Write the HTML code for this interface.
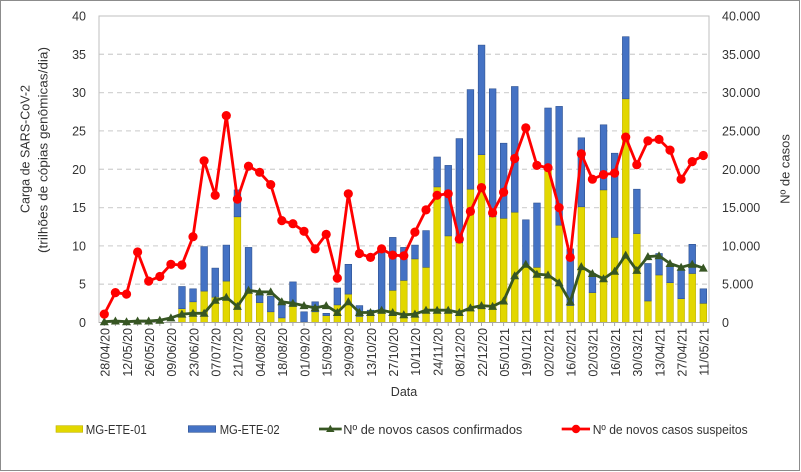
<!DOCTYPE html>
<html><head><meta charset="utf-8"><style>
html,body{margin:0;padding:0;background:#fff;}
svg{display:block;font-family:"Liberation Sans",Arial,sans-serif;}
</style></head><body>
<svg width="801" height="472" viewBox="0 0 801 472" xmlns="http://www.w3.org/2000/svg">
<defs>
<marker id="tri" markerUnits="userSpaceOnUse" markerWidth="12" markerHeight="12" refX="6" refY="6" viewBox="0 0 12 12" overflow="visible"><path d="M6,1.5 L10.5,9.5 L1.5,9.5 Z" fill="#375623"/></marker>
<marker id="dot" markerUnits="userSpaceOnUse" markerWidth="12" markerHeight="12" refX="6" refY="6" viewBox="0 0 12 12" overflow="visible"><circle cx="6" cy="6" r="4.6" fill="#FF0000"/></marker>
</defs>
<rect x="0.5" y="0.5" width="799" height="470" fill="#fff" stroke="#8c8c8c" stroke-width="1"/>
<!-- gridlines -->
<g stroke="#d4d4d4" stroke-width="1.3" stroke-dasharray="5 4">
<line x1="99" y1="284.2" x2="709" y2="284.2"/>
<line x1="99" y1="245.9" x2="709" y2="245.9"/>
<line x1="99" y1="207.6" x2="709" y2="207.6"/>
<line x1="99" y1="169.3" x2="709" y2="169.3"/>
<line x1="99" y1="130.9" x2="709" y2="130.9"/>
<line x1="99" y1="92.6" x2="709" y2="92.6"/>
<line x1="99" y1="54.3" x2="709" y2="54.3"/>
</g>
<rect x="99" y="16" width="610" height="306.5" fill="none" stroke="#bfbfbf" stroke-width="1"/>
<!-- bars -->
<g stroke-width="0.6">
<g fill="#E2D700" stroke="#BDB000">
<rect x="178.6" y="308.7" width="6.7" height="13.8"/>
<rect x="189.7" y="301.8" width="6.7" height="20.7"/>
<rect x="200.8" y="291.1" width="6.7" height="31.4"/>
<rect x="211.9" y="297.2" width="6.7" height="25.3"/>
<rect x="223.0" y="281.1" width="6.7" height="41.4"/>
<rect x="234.1" y="216.8" width="6.7" height="105.7"/>
<rect x="245.2" y="292.6" width="6.7" height="29.9"/>
<rect x="256.3" y="302.6" width="6.7" height="19.9"/>
<rect x="267.4" y="311.8" width="6.7" height="10.7"/>
<rect x="278.5" y="317.9" width="6.7" height="4.6"/>
<rect x="289.6" y="306.4" width="6.7" height="16.1"/>
<rect x="300.7" y="322.1" width="6.7" height="0.4"/>
<rect x="311.8" y="311.8" width="6.7" height="10.7"/>
<rect x="322.9" y="315.6" width="6.7" height="6.9"/>
<rect x="334.0" y="304.9" width="6.7" height="17.6"/>
<rect x="345.0" y="294.1" width="6.7" height="28.4"/>
<rect x="356.1" y="316.4" width="6.7" height="6.1"/>
<rect x="367.2" y="313.3" width="6.7" height="9.2"/>
<rect x="378.3" y="313.3" width="6.7" height="9.2"/>
<rect x="389.4" y="290.3" width="6.7" height="32.2"/>
<rect x="400.5" y="280.4" width="6.7" height="42.1"/>
<rect x="411.6" y="258.9" width="6.7" height="63.6"/>
<rect x="422.7" y="267.3" width="6.7" height="55.2"/>
<rect x="433.8" y="186.9" width="6.7" height="135.6"/>
<rect x="444.9" y="235.9" width="6.7" height="86.6"/>
<rect x="456.0" y="242.8" width="6.7" height="79.7"/>
<rect x="467.1" y="189.2" width="6.7" height="133.3"/>
<rect x="478.2" y="154.7" width="6.7" height="167.8"/>
<rect x="489.3" y="216.8" width="6.7" height="105.7"/>
<rect x="500.3" y="218.3" width="6.7" height="104.2"/>
<rect x="511.4" y="212.2" width="6.7" height="110.3"/>
<rect x="522.5" y="265.0" width="6.7" height="57.5"/>
<rect x="533.6" y="267.3" width="6.7" height="55.2"/>
<rect x="544.7" y="166.9" width="6.7" height="155.6"/>
<rect x="555.8" y="225.2" width="6.7" height="97.3"/>
<rect x="566.9" y="305.6" width="6.7" height="16.9"/>
<rect x="578.0" y="206.8" width="6.7" height="115.7"/>
<rect x="589.1" y="292.6" width="6.7" height="29.9"/>
<rect x="600.2" y="189.9" width="6.7" height="132.6"/>
<rect x="611.3" y="237.4" width="6.7" height="85.1"/>
<rect x="622.4" y="98.8" width="6.7" height="223.7"/>
<rect x="633.5" y="233.6" width="6.7" height="88.9"/>
<rect x="644.6" y="301.0" width="6.7" height="21.5"/>
<rect x="655.7" y="275.0" width="6.7" height="47.5"/>
<rect x="666.7" y="282.7" width="6.7" height="39.8"/>
<rect x="677.8" y="298.7" width="6.7" height="23.8"/>
<rect x="688.9" y="273.5" width="6.7" height="49.0"/>
<rect x="700.0" y="303.3" width="6.7" height="19.2"/>
</g>
<g fill="#4472C4" stroke="#2F528F">
<rect x="178.6" y="286.5" width="6.7" height="22.2"/>
<rect x="189.7" y="288.8" width="6.7" height="13.0"/>
<rect x="200.8" y="246.6" width="6.7" height="44.5"/>
<rect x="211.9" y="268.1" width="6.7" height="29.1"/>
<rect x="223.0" y="245.1" width="6.7" height="36.0"/>
<rect x="234.1" y="189.9" width="6.7" height="26.9"/>
<rect x="245.2" y="247.4" width="6.7" height="45.2"/>
<rect x="256.3" y="293.4" width="6.7" height="9.2"/>
<rect x="267.4" y="296.4" width="6.7" height="15.4"/>
<rect x="278.5" y="301.8" width="6.7" height="16.1"/>
<rect x="289.6" y="281.9" width="6.7" height="24.5"/>
<rect x="300.7" y="311.8" width="6.7" height="10.3"/>
<rect x="311.8" y="301.8" width="6.7" height="10.0"/>
<rect x="322.9" y="313.3" width="6.7" height="2.3"/>
<rect x="334.0" y="288.0" width="6.7" height="16.9"/>
<rect x="345.0" y="264.3" width="6.7" height="29.8"/>
<rect x="356.1" y="305.6" width="6.7" height="10.8"/>
<rect x="367.2" y="310.2" width="6.7" height="3.1"/>
<rect x="378.3" y="250.5" width="6.7" height="62.8"/>
<rect x="389.4" y="237.4" width="6.7" height="52.9"/>
<rect x="400.5" y="247.4" width="6.7" height="33.0"/>
<rect x="411.6" y="245.1" width="6.7" height="13.8"/>
<rect x="422.7" y="230.6" width="6.7" height="36.7"/>
<rect x="433.8" y="157.0" width="6.7" height="29.9"/>
<rect x="444.9" y="165.4" width="6.7" height="70.5"/>
<rect x="456.0" y="138.6" width="6.7" height="104.2"/>
<rect x="467.1" y="89.6" width="6.7" height="99.6"/>
<rect x="478.2" y="45.1" width="6.7" height="109.6"/>
<rect x="489.3" y="88.8" width="6.7" height="128.0"/>
<rect x="500.3" y="143.2" width="6.7" height="75.1"/>
<rect x="511.4" y="86.5" width="6.7" height="125.7"/>
<rect x="522.5" y="219.8" width="6.7" height="45.2"/>
<rect x="533.6" y="203.0" width="6.7" height="64.3"/>
<rect x="544.7" y="108.0" width="6.7" height="58.9"/>
<rect x="555.8" y="106.4" width="6.7" height="118.8"/>
<rect x="566.9" y="248.9" width="6.7" height="56.7"/>
<rect x="578.0" y="137.8" width="6.7" height="69.0"/>
<rect x="589.1" y="273.5" width="6.7" height="19.1"/>
<rect x="600.2" y="124.8" width="6.7" height="65.1"/>
<rect x="611.3" y="153.2" width="6.7" height="84.2"/>
<rect x="622.4" y="36.7" width="6.7" height="62.1"/>
<rect x="633.5" y="189.2" width="6.7" height="44.4"/>
<rect x="644.6" y="263.5" width="6.7" height="37.5"/>
<rect x="655.7" y="253.5" width="6.7" height="21.5"/>
<rect x="666.7" y="266.6" width="6.7" height="16.1"/>
<rect x="677.8" y="269.6" width="6.7" height="29.1"/>
<rect x="688.9" y="244.3" width="6.7" height="29.2"/>
<rect x="700.0" y="288.8" width="6.7" height="14.5"/>
</g>
</g>
<!-- axes -->
<line x1="99" y1="322.5" x2="709" y2="322.5" stroke="#a6a6a6" stroke-width="1"/>
<line x1="99" y1="16" x2="99" y2="322.5" stroke="#bfbfbf" stroke-width="1"/>
<path stroke="#a6a6a6" stroke-width="1" d="M104.3,322.5v3.5M115.4,322.5v3.5M126.5,322.5v3.5M137.6,322.5v3.5M148.7,322.5v3.5M159.8,322.5v3.5M170.9,322.5v3.5M181.9,322.5v3.5M193.0,322.5v3.5M204.1,322.5v3.5M215.2,322.5v3.5M226.3,322.5v3.5M237.4,322.5v3.5M248.5,322.5v3.5M259.6,322.5v3.5M270.7,322.5v3.5M281.8,322.5v3.5M292.9,322.5v3.5M304.0,322.5v3.5M315.1,322.5v3.5M326.2,322.5v3.5M337.3,322.5v3.5M348.3,322.5v3.5M359.4,322.5v3.5M370.5,322.5v3.5M381.6,322.5v3.5M392.7,322.5v3.5M403.8,322.5v3.5M414.9,322.5v3.5M426.0,322.5v3.5M437.1,322.5v3.5M448.2,322.5v3.5M459.3,322.5v3.5M470.4,322.5v3.5M481.5,322.5v3.5M492.6,322.5v3.5M503.6,322.5v3.5M514.7,322.5v3.5M525.8,322.5v3.5M536.9,322.5v3.5M548.0,322.5v3.5M559.1,322.5v3.5M570.2,322.5v3.5M581.3,322.5v3.5M592.4,322.5v3.5M603.5,322.5v3.5M614.6,322.5v3.5M625.7,322.5v3.5M636.8,322.5v3.5M647.9,322.5v3.5M659.0,322.5v3.5M670.0,322.5v3.5M681.1,322.5v3.5M692.2,322.5v3.5M703.3,322.5v3.5"/>
<!-- green line -->
<polyline fill="none" stroke="#375623" stroke-width="2.8" stroke-linejoin="round" marker-start="url(#tri)" marker-mid="url(#tri)" marker-end="url(#tri)" points="104.3,321.7 115.4,321.0 126.5,321.7 137.6,321.0 148.7,321.0 159.8,320.2 170.9,317.9 181.9,314.1 193.0,313.3 204.1,313.3 215.2,300.3 226.3,297.2 237.4,306.4 248.5,290.3 259.6,291.9 270.7,291.9 281.8,301.8 292.9,303.3 304.0,305.6 315.1,307.9 326.2,305.6 337.3,312.5 348.3,301.8 359.4,312.5 370.5,312.5 381.6,310.2 392.7,312.5 403.8,314.8 414.9,314.1 426.0,310.2 437.1,310.2 448.2,310.2 459.3,312.5 470.4,307.9 481.5,305.6 492.6,306.4 503.6,301.0 514.7,275.8 525.8,264.3 536.9,274.2 548.0,275.0 559.1,282.7 570.2,301.8 581.3,266.6 592.4,273.5 603.5,278.8 614.6,271.2 625.7,255.1 636.8,270.4 647.9,256.6 659.0,255.8 670.0,263.5 681.1,267.3 692.2,264.3 703.3,268.1"/>
<!-- red line -->
<polyline fill="none" stroke="#FF0000" stroke-width="2.8" stroke-linejoin="round" marker-start="url(#dot)" marker-mid="url(#dot)" marker-end="url(#dot)" points="104.3,314.1 115.4,292.6 126.5,294.1 137.6,252.0 148.7,281.1 159.8,276.5 170.9,264.3 181.9,265.0 193.0,236.7 204.1,160.8 215.2,195.3 226.3,115.6 237.4,199.1 248.5,166.2 259.6,172.3 270.7,184.6 281.8,220.6 292.9,223.7 304.0,231.3 315.1,248.9 326.2,234.4 337.3,278.1 348.3,193.8 359.4,253.5 370.5,257.4 381.6,248.9 392.7,255.1 403.8,255.8 414.9,232.1 426.0,209.9 437.1,195.3 448.2,193.8 459.3,239.0 470.4,211.4 481.5,187.6 492.6,212.9 503.6,192.2 514.7,158.5 525.8,127.9 536.9,165.4 548.0,167.7 559.1,207.6 570.2,257.4 581.3,153.9 592.4,179.2 603.5,174.6 614.6,173.1 625.7,137.1 636.8,164.7 647.9,140.9 659.0,139.4 670.0,150.1 681.1,179.2 692.2,161.6 703.3,155.5"/>
<!-- left axis labels -->
<g fill="#333" font-size="12.5" text-anchor="end">
<text x="86" y="327">0</text>
<text x="86" y="288.7">5</text>
<text x="86" y="250.4">10</text>
<text x="86" y="212.1">15</text>
<text x="86" y="173.8">20</text>
<text x="86" y="135.4">25</text>
<text x="86" y="97.1">30</text>
<text x="86" y="58.8">35</text>
<text x="86" y="20.5">40</text>
</g>
<!-- right axis labels -->
<g fill="#333" font-size="12.5">
<text x="722" y="327">0</text>
<text x="722" y="288.7">5.000</text>
<text x="722" y="250.4">10.000</text>
<text x="722" y="212.1">15.000</text>
<text x="722" y="173.8">20.000</text>
<text x="722" y="135.4">25.000</text>
<text x="722" y="97.1">30.000</text>
<text x="722" y="58.8">35.000</text>
<text x="722" y="20.5">40.000</text>
</g>
<!-- axis titles -->
<g fill="#333" font-size="13" text-anchor="middle">
<text transform="translate(29.5,149) rotate(-90)" textLength="128" lengthAdjust="spacingAndGlyphs">Carga de SARS-CoV-2</text>
<text transform="translate(47.5,150) rotate(-90)" textLength="206" lengthAdjust="spacingAndGlyphs">(trilhões de cópias genômicas/dia)</text>
<text transform="translate(789.5,169) rotate(-90)">Nº de casos</text>
<text x="404" y="396" font-size="12.5">Data</text>
</g>
<!-- x tick labels -->
<g fill="#333" font-size="12.5" text-anchor="end">
<text transform="translate(109.6,328) rotate(-90)">28/04/20</text>
<text transform="translate(131.8,328) rotate(-90)">12/05/20</text>
<text transform="translate(154.0,328) rotate(-90)">26/05/20</text>
<text transform="translate(176.2,328) rotate(-90)">09/06/20</text>
<text transform="translate(198.3,328) rotate(-90)">23/06/20</text>
<text transform="translate(220.5,328) rotate(-90)">07/07/20</text>
<text transform="translate(242.7,328) rotate(-90)">21/07/20</text>
<text transform="translate(264.9,328) rotate(-90)">04/08/20</text>
<text transform="translate(287.1,328) rotate(-90)">18/08/20</text>
<text transform="translate(309.3,328) rotate(-90)">01/09/20</text>
<text transform="translate(331.5,328) rotate(-90)">15/09/20</text>
<text transform="translate(353.6,328) rotate(-90)">29/09/20</text>
<text transform="translate(375.8,328) rotate(-90)">13/10/20</text>
<text transform="translate(398.0,328) rotate(-90)">27/10/20</text>
<text transform="translate(420.2,328) rotate(-90)">10/11/20</text>
<text transform="translate(442.4,328) rotate(-90)">24/11/20</text>
<text transform="translate(464.6,328) rotate(-90)">08/12/20</text>
<text transform="translate(486.8,328) rotate(-90)">22/12/20</text>
<text transform="translate(508.9,328) rotate(-90)">05/01/21</text>
<text transform="translate(531.1,328) rotate(-90)">19/01/21</text>
<text transform="translate(553.3,328) rotate(-90)">02/02/21</text>
<text transform="translate(575.5,328) rotate(-90)">16/02/21</text>
<text transform="translate(597.7,328) rotate(-90)">02/03/21</text>
<text transform="translate(619.9,328) rotate(-90)">16/03/21</text>
<text transform="translate(642.1,328) rotate(-90)">30/03/21</text>
<text transform="translate(664.3,328) rotate(-90)">13/04/21</text>
<text transform="translate(686.4,328) rotate(-90)">27/04/21</text>
<text transform="translate(708.6,328) rotate(-90)">11/05/21</text>
</g>
<!-- legend -->
<rect x="56" y="425.7" width="26.7" height="6.6" fill="#E2D700" stroke="#BDB000" stroke-width="0.6"/>
<rect x="188.3" y="425.7" width="27.4" height="6.6" fill="#4472C4" stroke="#2F528F" stroke-width="0.6"/>
<line x1="319" y1="429" x2="341.7" y2="429" stroke="#375623" stroke-width="2.8"/>
<path d="M330.3,424.8 L334.5,432 L326.1,432 Z" fill="#375623"/>
<line x1="561.7" y1="429" x2="590" y2="429" stroke="#FF0000" stroke-width="2.8"/>
<circle cx="576" cy="429" r="4.2" fill="#FF0000"/>
<g fill="#333" font-size="12.5">
<text x="85.7" y="434" textLength="61" lengthAdjust="spacingAndGlyphs">MG-ETE-01</text>
<text x="219.7" y="434" textLength="60" lengthAdjust="spacingAndGlyphs">MG-ETE-02</text>
<text x="343.3" y="434" textLength="179" lengthAdjust="spacingAndGlyphs">Nº de novos casos confirmados</text>
<text x="592.7" y="434" textLength="155" lengthAdjust="spacingAndGlyphs">Nº de novos casos suspeitos</text>
</g>
</svg>
</body></html>
